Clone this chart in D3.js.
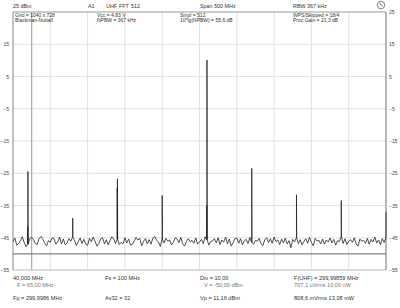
<!DOCTYPE html>
<html>
<head>
<meta charset="utf-8">
<script src="https://cdn.jsdelivr.net/npm/d3@7"></script>
<style>
  body { margin: 0; background: #fff; }
  svg { display: block; font-family: "Liberation Sans", Arial, sans-serif; }
</style>
</head>
<body>
<div id="chart"></div>
<script>
// noise floor, one value every 2.5 MHz from 0 to 500 MHz (dBm)
var noise = [
  -46.2,-45.1,-47.3,-46.8,-45.9,-44.7,-46.5,-47.8,-47.0,-45.3,
  -44.9,-45.6,-46.8,-47.1,-45.2,-44.6,-45.5,-46.7,-47.5,-45.9,
  -46.4,-45.0,-45.3,-47.0,-46.3,-44.8,-46.9,-45.4,-47.2,-46.6,
  -45.3,-46.1,-44.9,-45.8,-47.4,-46.2,-45.1,-46.8,-45.5,-47.0,
  -47.3,-45.2,-46.2,-44.8,-46.1,-47.6,-46.8,-45.4,-45.0,-46.9,
  -45.6,-47.2,-45.9,-44.7,-45.4,-46.8,-45.5,-47.1,-46.4,-46.9,
  -45.0,-46.6,-45.4,-47.3,-47.0,-46.0,-44.9,-45.7,-45.2,-47.5,
  -46.1,-45.3,-46.9,-45.6,-47.0,-45.1,-44.6,-45.8,-46.3,-47.7,
  -45.5,-46.6,-45.2,-46.1,-45.7,-47.2,-46.4,-45.0,-45.4,-46.5,
  -44.9,-46.9,-47.6,-46.1,-45.3,-46.2,-45.8,-46.7,-45.1,-47.0,
  -46.3,-45.5,-46.8,-44.7,-45.6,-47.3,-46.2,-46.0,-45.3,-46.6,
  -45.0,-47.1,-45.7,-46.3,-44.8,-46.9,-45.4,-47.6,-46.6,-45.2,
  -45.1,-46.7,-45.3,-47.2,-46.0,-45.5,-46.8,-44.9,-46.4,-47.0,
  -45.8,-46.1,-45.2,-46.9,-47.4,-45.6,-45.0,-46.5,-45.3,-46.7,
  -44.8,-46.2,-45.7,-47.1,-45.4,-46.6,-45.1,-46.9,-45.9,-48.1,
  -45.5,-46.3,-45.0,-46.8,-45.6,-47.2,-46.1,-45.3,-46.7,-44.9,
  -46.5,-47.5,-45.2,-46.0,-45.8,-46.9,-45.4,-47.0,-45.7,-46.3,
  -45.1,-46.6,-45.5,-47.3,-45.9,-46.2,-44.7,-46.8,-45.3,-47.1,
  -46.0,-45.6,-46.4,-45.0,-46.9,-47.6,-45.4,-46.1,-45.8,-46.7,
  -45.2,-47.0,-45.5,-46.3,-44.8,-46.6,-45.7,-47.2,-45.3,-46.5,
  -45.1
]
var noiseStep = 2.5

// spurs / harmonics
var spikeFreqs = [20, 80, 140, 200, 260, 320, 380, 440, 500]
var spikePeaks = [-24.5, -38.9, -26.7, -31.9, 10.1, -23.5, -31.7, -33.5, -37.0]
var spikeShoulders = [-41.5, null, -29.5, null, -35.0, null, null, null, null]

var markerFreq = 25
var refLevel = -50

var yTicksLeft = [15, 5, -5, -15, -25, -35, -45, -55]
var yTicksRight = [25, 15, 5, -5, -15, -25, -35, -45, -55]
var gridY = [15, 5, -5, -15, -25, -35, -45]
var gridX = [50, 100, 150, 200, 250, 300, 350, 400, 450]

var headerTexts = [["25 dBm", 13], ["A1", 88], ["UHF", 106], ["FFT", 119], ["512", 131], ["Span 500 MHz", 200], ["RBW 367 kHz", 293]]
var infoTexts = [
  ["Grid = 1040 x 728", 15, 17], ["Blackman-Nuttall", 15, 22],
  ["Vcc = 4,83 V", 97, 17], ["NPBW = 367 kHz", 97, 22],
  ["Smpl = 512", 180, 17], ["10*lg(NPBW) = 55,6 dB", 180, 22],
  ["WPS/Skipped = 18/4", 293, 17], ["Proc.Gain = 21,3 dB", 293, 22]
]
var footerTexts = [
  ["40,000 MHz", 13, 280, "#333"], ["F = 65,00 MHz", 17, 287, "#777"], ["Fp = 299,9986 MHz", 13, 300, "#333"],
  ["Fs = 100 MHz", 105, 280, "#333"], ["Av32 = 32", 105, 300, "#333"],
  ["Div = 10,00", 200, 280, "#333"], ["V = -50,00 dBm", 204, 287, "#777"], ["Vp = 11,16 dBm", 200, 300, "#333"],
  ["F(UHF) = 299,99859 MHz", 294, 280, "#333"], ["707,1 uVrms  10,00 nW", 294, 287, "#777"], ["808,6 mVrms  13,08 mW", 294, 300, "#333"]
]

var width = 400, height = 308

var svg = d3.select("#chart")
    .append("svg")
    .attr("width", width)
    .attr("height", height)

var x = d3.scaleLinear().domain([0, 500]).range([13, 386])
var y = d3.scaleLinear().domain([-55, 25]).range([270, 12])

// grid
svg.selectAll(".gx")
    .data(gridX)
    .enter()
    .append("line")
    .attr("x1", d => x(d)).attr("x2", d => x(d))
    .attr("y1", y(25)).attr("y2", y(-55))
    .attr("stroke", "#e2e2e2").attr("stroke-width", 1)

svg.selectAll(".gy")
    .data(gridY)
    .enter()
    .append("line")
    .attr("x1", x(0)).attr("x2", x(500))
    .attr("y1", d => y(d)).attr("y2", d => y(d))
    .attr("stroke", "#e2e2e2").attr("stroke-width", 1)

// frame
svg.append("line").attr("x1", x(0)).attr("x2", x(500)).attr("y1", y(25)).attr("y2", y(25))
    .attr("stroke", "#999").attr("stroke-width", 1)
svg.append("line").attr("x1", x(0)).attr("x2", x(500)).attr("y1", y(-55)).attr("y2", y(-55))
    .attr("stroke", "#bbb").attr("stroke-width", 1)
svg.append("line").attr("x1", x(0)).attr("x2", x(0)).attr("y1", y(25)).attr("y2", y(-55))
    .attr("stroke", "#999").attr("stroke-width", 1.2)
svg.append("line").attr("x1", x(500)).attr("x2", x(500)).attr("y1", y(25)).attr("y2", y(-55))
    .attr("stroke", "#888").attr("stroke-width", 1.2)

// marker and reference level
svg.append("line").attr("x1", x(markerFreq)).attr("x2", x(markerFreq)).attr("y1", y(25)).attr("y2", y(-55))
    .attr("stroke", "#aaa").attr("stroke-width", 1.2)
svg.append("line").attr("x1", x(0)).attr("x2", x(500)).attr("y1", y(refLevel)).attr("y2", y(refLevel))
    .attr("stroke", "#666").attr("stroke-width", 1)

// axes
var yLeft = svg.append("g")
    .attr("transform", "translate(" + x(0) + ",0)")
    .call(d3.axisLeft(y).tickValues(yTicksLeft).tickSize(0).tickPadding(4))
var yRight = svg.append("g")
    .attr("transform", "translate(" + x(500) + ",0)")
    .call(d3.axisRight(y).tickValues(yTicksRight).tickSize(0).tickPadding(3))
svg.selectAll(".domain").remove()
svg.selectAll(".tick text").attr("font-size", 5).attr("fill", "#444")
    .attr("font-family", "Liberation Sans, Arial, sans-serif")

// trace
function noiseAt(f) {
    var i = Math.round(f / noiseStep)
    return noise[Math.max(0, Math.min(noise.length - 1, i))]
}
var trace = noise.map((v, i) => [i * noiseStep, v])
spikeFreqs.forEach((f, i) => {
    var base = noiseAt(f)
    if (spikeShoulders[i] != null) {
        trace.push([f - 0.5, base])
        trace.push([f - 0.3, spikeShoulders[i]])
    } else {
        trace.push([f - 0.3, base])
    }
    trace.push([f, spikePeaks[i]])
    trace.push([f + 0.3, base])
})
trace = trace.filter(d => d[0] >= 0 && d[0] <= 500)
trace.sort((a, b) => a[0] - b[0])

svg.append("path")
    .datum(trace)
    .attr("fill", "none")
    .attr("stroke", "#222")
    .attr("stroke-width", 0.8)
    .attr("d", d3.line().x(d => x(d[0])).y(d => y(d[1])))

// texts
svg.selectAll(".hdr")
    .data(headerTexts)
    .enter()
    .append("text")
    .attr("x", d => d[1]).attr("y", 8)
    .attr("font-size", 5.4).attr("fill", "#333")
    .text(d => d[0])

svg.selectAll(".info")
    .data(infoTexts)
    .enter()
    .append("text")
    .attr("x", d => d[1]).attr("y", d => d[2])
    .attr("font-size", 5).attr("fill", "#333")
    .text(d => d[0])

svg.selectAll(".ftr")
    .data(footerTexts)
    .enter()
    .append("text")
    .attr("x", d => d[1]).attr("y", d => d[2])
    .attr("font-size", 5.6).attr("fill", d => d[3])
    .text(d => d[0])

// status icon
svg.append("circle").attr("cx", 381).attr("cy", 5).attr("r", 3.8)
    .attr("fill", "none").attr("stroke", "#666").attr("stroke-width", 0.8)
svg.append("path").attr("d", "M379.5,2.5 L381,5 L383,6.5")
    .attr("fill", "none").attr("stroke", "#666").attr("stroke-width", 0.8)
</script>
</body>
</html>
